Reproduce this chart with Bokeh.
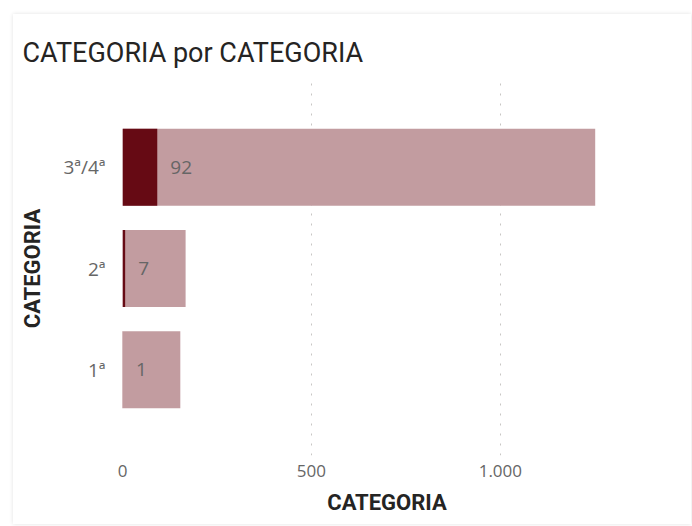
from bokeh.plotting import figure
from bokeh.models import (ColumnDataSource, FactorRange, Range1d, FixedTicker, Title)
from bokeh.core.properties import value
from bokeh.embed import file_html
from bokeh.resources import INLINE

# ---- data ----
categories = ["1ª", "2ª", "3ª/4ª"]
total_values = [153, 167, 1251]
dark_values = [1, 7, 92]
x_tick_values = [0, 500, 1000]
x_tick_labels = ["0", "500", "1.000"]
title_text = "CATEGORIA por CATEGORIA"
axis_title = "CATEGORIA"

DARK = "#660A14"
LIGHT = "#C29CA0"

src = ColumnDataSource(dict(cat=categories, total=total_values, dark=dark_values,
                            lbl=[str(v) for v in dark_values]))

p = figure(width=678, height=510, output_backend="svg", toolbar_location=None,
           y_range=FactorRange(factors=categories, range_padding=0.23),
           x_range=Range1d(0, 1400),
           min_border_left=109, min_border_top=67, min_border_bottom=69, min_border_right=40)
p.margin = (14, 0, 0, 13)
p.styles = {"box-shadow": "0 0 4px rgba(0,0,0,0.12)"}

p.title = Title(text=title_text, align="left", offset=-100, standoff=25,
                text_font="Roboto", text_font_size="27px", text_font_style="normal",
                text_color="#252423")

p.hbar(y="cat", left=0, right="total", height=0.76, source=src, color=LIGHT, line_color=None)
p.hbar(y="cat", left=0, right="dark", height=0.76, source=src, color=DARK, line_color=None)
p.text(x="dark", y="cat", text="lbl", source=src, x_offset=13, text_align="left",
       text_baseline="middle", text_font=value("Open Sans"), text_font_size="19px",
       text_color="#666666")

p.outline_line_color = None
p.background_fill_color = "white"
p.border_fill_color = "white"

# x axis
p.xaxis.ticker = FixedTicker(ticks=x_tick_values)
p.xaxis.major_label_overrides = {t: l for t, l in zip(x_tick_values, x_tick_labels)}
p.xaxis.axis_line_color = None
p.xaxis.major_tick_line_color = None
p.xaxis.minor_tick_line_color = None
p.xaxis.major_label_text_font = "Open Sans"
p.xaxis.major_label_text_font_size = "17px"
p.xaxis.major_label_text_color = "#666666"
p.xaxis.major_label_standoff = 3
p.xaxis.axis_label = axis_title
p.xaxis.axis_label_text_font = "Roboto"
p.xaxis.axis_label_text_font_style = "bold"
p.xaxis.axis_label_text_font_size = "22px"
p.xaxis.axis_label_text_color = "#252423"
p.xaxis.axis_label_standoff = 10

# y axis
p.yaxis.axis_line_color = None
p.yaxis.major_tick_line_color = None
p.yaxis.minor_tick_line_color = None
p.yaxis.major_label_text_font = "Open Sans"
p.yaxis.major_label_text_font_size = "19px"
p.yaxis.major_label_text_color = "#666666"
p.yaxis.major_label_standoff = 11
p.yaxis.axis_label = axis_title
p.yaxis.axis_label_text_font = "Roboto"
p.yaxis.axis_label_text_font_style = "bold"
p.yaxis.axis_label_text_font_size = "22px"
p.yaxis.axis_label_text_color = "#252423"
p.yaxis.axis_label_standoff = 15

# grid
p.ygrid.grid_line_color = None
p.xgrid.grid_line_color = "#C8C6C4"
p.xgrid.grid_line_dash = "2 8"
p.xgrid.grid_line_width = 1

open("out.html", "w").write(file_html(p, INLINE))
